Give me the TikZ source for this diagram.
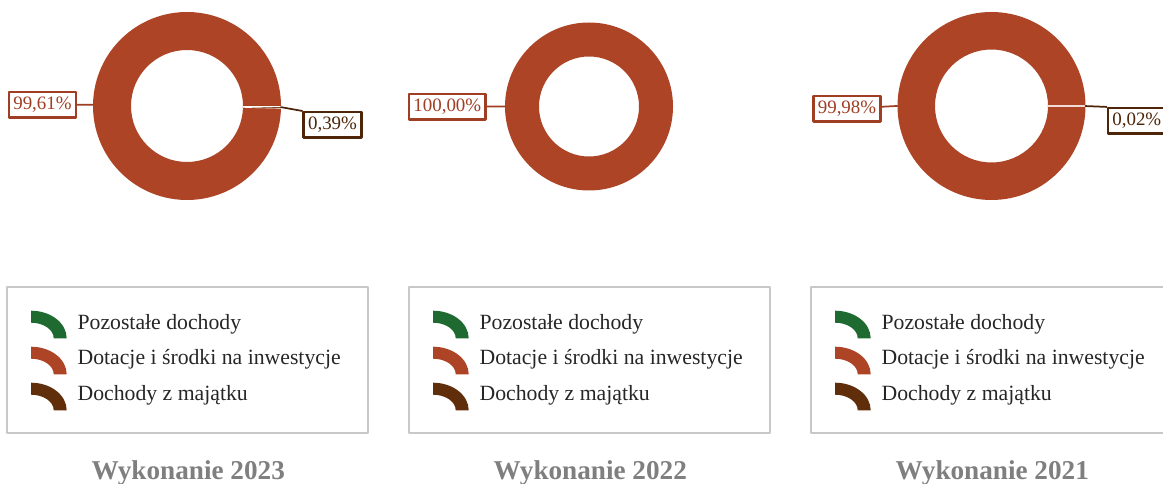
\documentclass[tikz,border=0pt]{standalone}
\usepackage{fontspec}
\setmainfont{Liberation Serif}
\usetikzlibrary{positioning}
\definecolor{green_slice}{HTML}{1E6A30}
\definecolor{red_slice}{HTML}{AD4426}
\definecolor{brown_slice}{HTML}{612E0B}
\definecolor{label_red}{HTML}{A03E24}
\definecolor{label_brown}{HTML}{4E2509}
\definecolor{frame_gray}{HTML}{C8C8C8}
\definecolor{title_gray}{HTML}{7F7F7F}
\definecolor{entry_gray}{HTML}{262626}

\begin{document}
\begin{tikzpicture}[x=0.75pt,y=-0.75pt,line cap=round,line join=round,
  label_box/.style={draw,line width=1.9pt,fill=white,inner xsep=3.4pt,inner ysep=0pt,
    minimum height=19pt,font=\fontsize{14.2}{16}\selectfont},
  legend_entry/.style={anchor=base west,text=entry_gray,inner sep=0pt,
    font=\fontsize{16.3}{19}\selectfont},
  year_title/.style={anchor=base,text=title_gray,inner sep=0pt,
    font=\fontsize{20.4}{24}\selectfont\bfseries}]

\useasboundingbox (0,0) rectangle (1163,484);

%-----------------------------------------------
% Wykonanie 2023
\begin{scope}[shift={(187,106)}]
\fill[red_slice] (1.4:94) arc[start angle=1.4,end angle=360,radius=94] -- (360:56) arc[start angle=360,end angle=1.4,radius=56] -- cycle;
\fill[brown_slice] (0:94) arc[start angle=0,end angle=1.4,radius=94] -- (1.4:56) arc[start angle=1.4,end angle=0,radius=56] -- cycle;
\draw[white,line width=0.5pt] (0:56) -- (0:94);
\draw[white,line width=0.5pt] (1.4:56) -- (1.4:94);

\coordinate (big23) at (180.7:94);
\coordinate (small23) at (0.7:94);
\node[label_box,draw=label_red,text=label_red] (lab_big23) at (-144.5,-1.2) {99,61\%};
\node[label_box,draw=label_brown,text=label_brown] (lab_small23) at (145.5,18.9) {0,39\%};
\draw[label_red,line width=1.3pt] (big23) -- (lab_big23);
\draw[label_brown,line width=1.3pt] (small23) -- (lab_small23.north west);
\end{scope}

%-----------------------------------------------
% Wykonanie 2022
\begin{scope}[shift={(589,106.5)}]
\fill[red_slice,even odd rule] (0,0) circle (84) (0,0) circle (50);

\coordinate (big22) at (180:84);
\node[label_box,draw=label_red,text=label_red] (lab_big22) at (-141.7,0.3) {100,00\%};
\draw[label_red,line width=1.3pt] (big22) -- (lab_big22);
\end{scope}

%-----------------------------------------------
% Wykonanie 2021
\begin{scope}[shift={(991.5,106)}]
\fill[red_slice,even odd rule] (0,0) circle (94) (0,0) circle (56.5);
\draw[white!80!red_slice,line width=0.8pt] (0:56.5) -- (0:94);

\coordinate (big21) at (180.04:94);
\coordinate (small21) at (0.04:94);
\node[label_box,draw=label_red,text=label_red] (lab_big21) at (-144.5,2.65) {99,98\%};
\node[label_box,draw=label_brown,text=label_brown] (lab_small21) at (145.3,14.85) {0,02\%};
\draw[label_red,line width=1.3pt] (big21) -- (lab_big21);
\draw[label_brown,line width=1.3pt] (small21) -- (lab_small21.north west);
\end{scope}

%-----------------------------------------------
% Legends and titles
\foreach \yr/\px in {2023/0,2022/402,2021/804}
{
  \begin{scope}[shift={(\px,0)}]
  \draw[frame_gray,line width=1.5pt] (7.3,287.3) rectangle (367.7,433.3);
  \foreach \col/\entry [count=\i from 0] in {green_slice/Pozostałe dochody,red_slice/Dotacje i środki na inwestycje,brown_slice/Dochody z majątku}
  {
    \fill[\col] (31,310.7+36*\i) arc[start angle=-90,end angle=0,x radius=35.7,y radius=27.6] -- ++(-13,0) arc[start angle=0,end angle=-90,x radius=22.7,y radius=15.6] -- cycle;
    \node[legend_entry] (entry\yr\i) at (77.3,329.3+35.5*\i) {\entry};
  }
  \node[year_title] (title\yr) at (188.3,479) {Wykonanie \yr};
  \end{scope}
}

\end{tikzpicture}
\end{document}
